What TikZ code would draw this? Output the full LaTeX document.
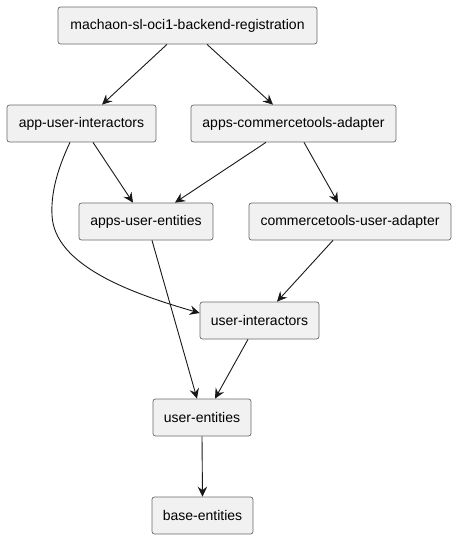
\documentclass[tikz,border=0pt]{standalone}
\usepackage{fontspec}
\setmainfont{Liberation Sans}
\usetikzlibrary{arrows.meta}
\definecolor{boxfill}{HTML}{F1F1F1}
\definecolor{boxline}{HTML}{6A6A6A}
\definecolor{edge}{HTML}{181818}
\begin{document}
\begin{tikzpicture}[x=1pt,y=-1pt,
  pkg/.style={draw=boxline,fill=boxfill,line width=0.7pt,rounded corners=2.5pt,
    minimum height=37pt,inner sep=0pt,font=\fontsize{14}{16}\selectfont},
  dep/.style={draw=edge,line width=0.9pt,-{Stealth[length=10pt,width=9.5pt,inset=3.5pt]}}]
\useasboundingbox (0,0) rectangle (455,539);
\node[pkg,minimum width=259pt] (m) at (187.5,25.5) {machaon-sl-oci1-backend-registration};
\node[pkg,minimum width=149pt] (aui) at (81.5,123.5) {app-user-interactors};
\node[pkg,minimum width=205pt] (aca) at (293.5,123.5) {apps-commercetools-adapter};
\node[pkg,minimum width=134pt] (aue) at (146,221.5) {apps-user-entities};
\node[pkg,minimum width=202pt] (cua) at (350,221.5) {commercetools-user-adapter};
\node[pkg,minimum width=119pt] (ui) at (259.5,320.5) {user-interactors};
\node[pkg,minimum width=98pt] (ue) at (202,417.5) {user-entities};
\node[pkg,minimum width=101pt] (be) at (202.5,515.5) {base-entities};

\draw[dep] ([xshift=-20.5pt]m.south) -- ([xshift=20.5pt]aui.north);
\draw[dep] ([xshift=19.5pt]m.south) -- ([xshift=-20.5pt]aca.north);
\draw[dep] ([xshift=11.5pt]aui.south) -- ([xshift=-13pt]aue.north);
\draw[dep] ([xshift=-27.5pt]aca.south) -- ([xshift=29pt]aue.north);
\draw[dep] ([xshift=10.5pt]aca.south) -- ([xshift=-12pt]cua.north);
\draw[dep] ([xshift=-11.5pt]aui.south) .. controls (56,172) and (51,195) .. (52,215)
  .. controls (54,265) and (130,293) .. ([yshift=7.5pt]ui.west);
\draw[dep] ([xshift=6pt]aue.south) -- ([xshift=-5pt]ue.north);
\draw[dep] ([xshift=-17pt]cua.south) -- ([xshift=17.5pt]ui.north);
\draw[dep] ([xshift=-11.5pt]ui.south) -- ([xshift=13pt]ue.north);
\draw[dep] (ue.south) -- (be.north);
\end{tikzpicture}
\end{document}
